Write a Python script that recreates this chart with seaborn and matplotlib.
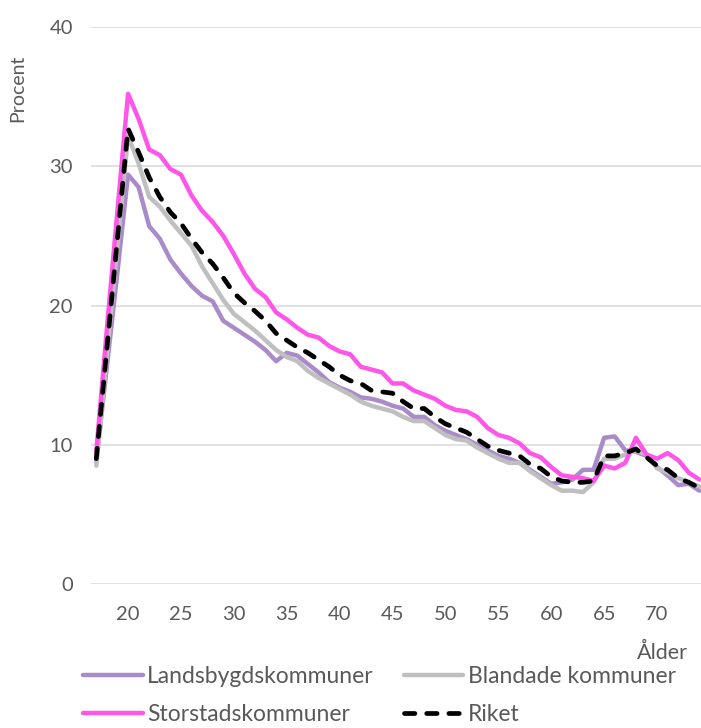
import matplotlib
matplotlib.use("Agg")
import matplotlib.pyplot as plt
import seaborn as sns
import pandas as pd
from matplotlib.lines import Line2D

ages = list(range(17, 75))

landsbygd = [8.8, 15.6, 22.4, 29.4, 28.5, 25.7, 24.8, 23.3, 22.3, 21.4,
             20.7, 20.3, 18.9, 18.4, 17.9, 17.4, 16.8, 16.0, 16.6, 16.4,
             15.8, 15.2, 14.5, 14.1, 13.8, 13.4, 13.3, 13.1, 12.8, 12.6,
             12.0, 12.0, 11.4, 11.0, 10.7, 10.4, 10.0, 9.6, 9.2, 9.0,
             8.7, 8.2, 7.7, 7.2, 7.3, 7.5, 8.2, 8.2, 10.5, 10.6,
             9.6, 9.5, 9.2, 8.4, 7.8, 7.1, 7.2, 6.7]

blandade = [8.5, 16.4, 24.3, 32.2, 30.2, 27.8, 27.1, 26.1, 25.2, 24.3,
            22.8, 21.6, 20.4, 19.4, 18.8, 18.2, 17.5, 16.8, 16.3, 16.0,
            15.3, 14.8, 14.4, 14.0, 13.6, 13.1, 12.8, 12.6, 12.4, 12.0,
            11.7, 11.7, 11.2, 10.7, 10.4, 10.3, 9.8, 9.4, 9.0, 8.7,
            8.7, 8.1, 7.6, 7.1, 6.7, 6.7, 6.6, 7.3, 9.0, 9.0,
            9.3, 9.6, 9.3, 8.3, 8.0, 7.6, 7.3, 7.0]

storstad = [9.5, 18.3, 26.8, 35.2, 33.4, 31.2, 30.8, 29.8, 29.4, 27.9,
            26.8, 26.0, 25.0, 23.7, 22.3, 21.2, 20.6, 19.5, 19.0, 18.4,
            17.9, 17.7, 17.1, 16.7, 16.5, 15.6, 15.4, 15.2, 14.4, 14.4,
            13.9, 13.6, 13.3, 12.8, 12.5, 12.4, 12.0, 11.2, 10.7, 10.5,
            10.1, 9.4, 9.1, 8.4, 7.8, 7.7, 7.6, 7.4, 8.5, 8.3,
            8.7, 10.5, 9.3, 9.0, 9.4, 8.9, 8.0, 7.5]

riket = [9.0, 16.9, 24.8, 32.7, 31.0, 29.2, 27.8, 26.7, 25.9, 24.8,
         23.8, 23.0, 22.0, 20.9, 20.2, 19.6, 18.9, 18.0, 17.5, 17.0,
         16.6, 16.1, 15.6, 15.0, 14.6, 14.4, 13.9, 13.8, 13.7, 13.1,
         12.6, 12.6, 12.0, 11.5, 11.2, 10.9, 10.4, 9.9, 9.6, 9.4,
         9.2, 8.6, 8.3, 7.7, 7.4, 7.3, 7.3, 7.4, 9.2, 9.2,
         9.4, 9.7, 9.1, 8.5, 8.2, 7.6, 7.3, 6.9]

series_names = ["Landsbygdskommuner", "Blandade kommuner", "Storstadskommuner", "Riket"]
xticks = [20, 25, 30, 35, 40, 45, 50, 55, 60, 65, 70]
yticks = [0, 10, 20, 30, 40]

colors = ["#a98bc9", "#bfbfbf", "#ff55e8", "#000000"]

sns.set_theme(style="white")
plt.rcParams["font.family"] = ["Lato", "DejaVu Sans"]

fig = plt.figure(figsize=(7.01, 7.28), dpi=100)
W, H = 701, 728
ax = fig.add_axes([91 / W, 1 - 584 / H, 610 / W, (584 - 27) / H])

df = pd.DataFrame({
    "age": ages * 4,
    "value": landsbygd + blandade + storstad + riket,
    "series": sum([[n] * len(ages) for n in series_names], []),
})

lw = 3.2
dash = (0, (2.2, 2.5))
for name, col in zip(series_names, colors):
    sub = df[df["series"] == name]
    if name == "Riket":
        sns.lineplot(data=sub, x="age", y="value", color=col, lw=lw + 0.2, ax=ax,
                     linestyle=dash, dash_capstyle="round",
                     legend=False, zorder=5)
    else:
        sns.lineplot(data=sub, x="age", y="value", color=col, lw=lw, ax=ax,
                     solid_joinstyle="round", solid_capstyle="round",
                     legend=False, zorder=3)

ax.set_xlim(16.5, 16.5 + 610 / 10.58)
ax.set_ylim(0, 40)
ax.set_xticks(xticks)
ax.set_xticklabels([str(t) for t in xticks])
ax.set_yticks(yticks)
ax.set_yticklabels([str(t) for t in yticks])
for s in ax.spines.values():
    s.set_visible(False)
ax.grid(axis="y", color="#d9d9d9", lw=1.1)
ax.grid(axis="x", visible=False)
ax.set_axisbelow(True)
ax.tick_params(axis="both", length=0, labelsize=14.5, colors="#595959")
ax.tick_params(axis="x", pad=16)
ax.tick_params(axis="y", pad=13)
ax.set_xlabel("")
ax.set_ylabel("")

fig.text(18 / W, 1 - 88 / H, "Procent", rotation=90, ha="center", va="center",
         fontsize=14, color="#595959")
fig.text(662 / W, 1 - 653 / H, "Ålder", ha="center", va="center",
         fontsize=15.5, color="#595959")

handle_map = {
    "Landsbygdskommuner": Line2D([], [], color=colors[0], lw=lw),
    "Blandade kommuner": Line2D([], [], color=colors[1], lw=lw),
    "Storstadskommuner": Line2D([], [], color=colors[2], lw=lw),
    "Riket": Line2D([], [], color=colors[3], lw=lw + 0.2, linestyle=dash, dash_capstyle="round"),
}
leg_order = ["Landsbygdskommuner", "Storstadskommuner", "Blandade kommuner", "Riket"]
leg = fig.legend([handle_map[n] for n in leg_order], leg_order, ncol=2, loc="upper left",
                 bbox_to_anchor=(83 / W, 1 - 666 / H), frameon=False,
                 fontsize=16.5, handlelength=2.6, handletextpad=0.2,
                 columnspacing=1.3, labelspacing=0.75, borderaxespad=0, borderpad=0)
for t in leg.get_texts():
    t.set_color("#595959")

fig.savefig("out.png", dpi=100)
